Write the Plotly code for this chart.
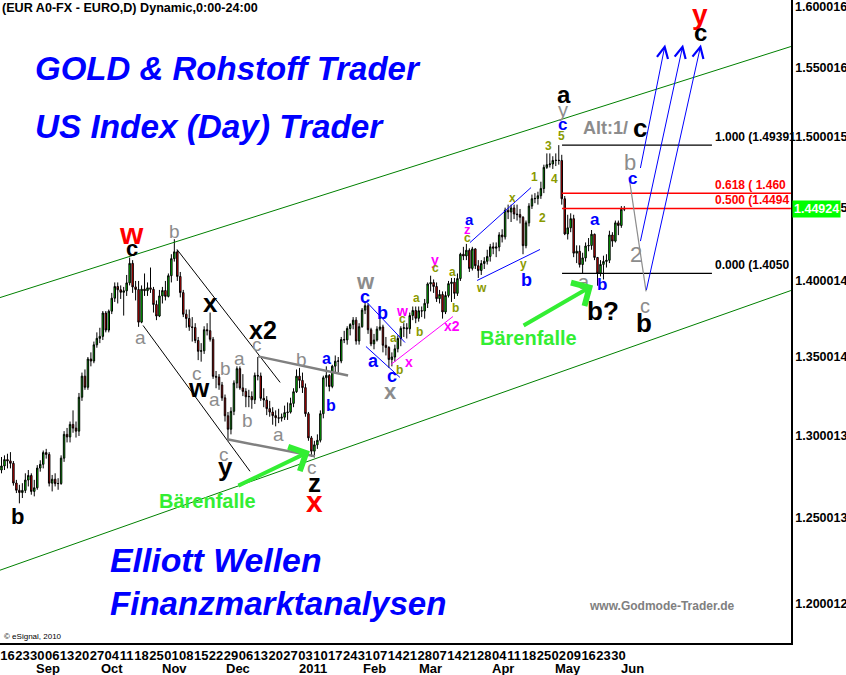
import numpy as np
import plotly.graph_objects as go

# ---------------- data (EUR/USD daily) ----------------
first_open = 1.2790
close = [1.2815, 1.2854, 1.2846, 1.2831, 1.2711, 1.2667, 1.2653, 1.2666, 1.2729, 1.2757,
         1.2660, 1.2682, 1.2802, 1.2825, 1.2897, 1.2886, 1.2710, 1.2734, 1.2707, 1.2708,
         1.2863, 1.3010, 1.2994, 1.3072, 1.3049, 1.3030, 1.3243, 1.3377, 1.3306, 1.3487,
         1.3474, 1.3579, 1.3621, 1.3634, 1.3787, 1.3675, 1.3799, 1.3885, 1.3963, 1.3941,
         1.3924, 1.3934, 1.3987, 1.4118, 1.3960, 1.3943, 1.3727, 1.3945, 1.3935, 1.3954,
         1.3944, 1.3843, 1.3767, 1.3900, 1.3936, 1.3897, 1.4035, 1.4150, 1.4196, 1.4030,
         1.3922, 1.3779, 1.3751, 1.3696, 1.3692, 1.3607, 1.3537, 1.3540, 1.3677, 1.3671,
         1.3615, 1.3376, 1.3371, 1.3321, 1.3239, 1.3126, 1.3042, 1.3154, 1.3333, 1.3425,
         1.3302, 1.3280, 1.3246, 1.3248, 1.3227, 1.3382, 1.3378, 1.3236, 1.3225, 1.3171,
         1.3149, 1.3127, 1.3114, 1.3111, 1.3117, 1.3146, 1.3149, 1.3204, 1.3278, 1.3377,
         1.3350, 1.3304, 1.3139, 1.2988, 1.2906, 1.2945, 1.2973, 1.3139, 1.3367, 1.3382,
         1.3311, 1.3441, 1.3473, 1.3474, 1.3613, 1.3611, 1.3685, 1.3711, 1.3740, 1.3604,
         1.3697, 1.3806, 1.3835, 1.3677, 1.3585, 1.3610, 1.3681, 1.3695, 1.3576, 1.3562,
         1.3484, 1.3500, 1.3553, 1.3620, 1.3686, 1.3690, 1.3683, 1.3770, 1.3804, 1.3752,
         1.3802, 1.3800, 1.3851, 1.3980, 1.3989, 1.3963, 1.3882, 1.3910, 1.3794, 1.3903,
         1.3982, 1.3992, 1.3917, 1.4016, 1.4180, 1.4168, 1.4207, 1.4084, 1.4216, 1.4102,
         1.4070, 1.4117, 1.4132, 1.4165, 1.4230, 1.4221, 1.4229, 1.4311, 1.4298, 1.4481,
         1.4469, 1.4497, 1.4455, 1.4451, 1.4433, 1.4238, 1.4394, 1.4510, 1.4561, 1.4563,
         1.4582, 1.4632, 1.4781, 1.4800, 1.4805, 1.4830, 1.4831, 1.4830, 1.4561, 1.4318,
         1.4360, 1.4423, 1.4187, 1.4200, 1.4110, 1.4155, 1.4236, 1.4239, 1.4316, 1.4158,
         1.4051, 1.4111, 1.4131, 1.4139, 1.4311, 1.4269, 1.4394, 1.4376, 1.4488, 1.4492]
high = [1.2870, 1.2880, 1.2890, 1.2900, 1.2845, 1.2730, 1.2700, 1.2710, 1.2770, 1.2790,
        1.2770, 1.2730, 1.2820, 1.2850, 1.2910, 1.2920, 1.2900, 1.2760, 1.2770, 1.2740,
        1.2880, 1.3030, 1.3050, 1.3090, 1.3160, 1.3090, 1.3270, 1.3400, 1.3420, 1.3500,
        1.3530, 1.3600, 1.3660, 1.3690, 1.3800, 1.3800, 1.3810, 1.3920, 1.3990, 1.3990,
        1.3970, 1.3960, 1.4040, 1.4157, 1.4140, 1.4000, 1.4000, 1.3970, 1.4050, 1.3990,
        1.4090, 1.3960, 1.3870, 1.3940, 1.3960, 1.4000, 1.4050, 1.4180, 1.4282, 1.4210,
        1.4060, 1.3940, 1.3810, 1.3810, 1.3760, 1.3720, 1.3630, 1.3590, 1.3700, 1.3720,
        1.3790, 1.3630, 1.3410, 1.3390, 1.3340, 1.3260, 1.3150, 1.3180, 1.3350, 1.3440,
        1.3440, 1.3390, 1.3300, 1.3290, 1.3280, 1.3400, 1.3500, 1.3400, 1.3300, 1.3250,
        1.3220, 1.3180, 1.3160, 1.3170, 1.3140, 1.3190, 1.3210, 1.3240, 1.3300, 1.3420,
        1.3430, 1.3400, 1.3330, 1.3150, 1.3000, 1.2970, 1.3010, 1.3160, 1.3380, 1.3440,
        1.3390, 1.3450, 1.3510, 1.3500, 1.3630, 1.3670, 1.3700, 1.3720, 1.3760, 1.3760,
        1.3720, 1.3820, 1.3862, 1.3850, 1.3690, 1.3650, 1.3700, 1.3760, 1.3710, 1.3630,
        1.3570, 1.3530, 1.3580, 1.3640, 1.3700, 1.3720, 1.3720, 1.3790, 1.3830, 1.3830,
        1.3830, 1.3830, 1.3880, 1.3990, 1.4035, 1.4010, 1.3990, 1.3940, 1.3930, 1.3930,
        1.4000, 1.4020, 1.4020, 1.4050, 1.4190, 1.4230, 1.4250, 1.4220, 1.4230, 1.4220,
        1.4140, 1.4140, 1.4160, 1.4210, 1.4250, 1.4260, 1.4260, 1.4330, 1.4350, 1.4499,
        1.4520, 1.4520, 1.4520, 1.4520, 1.4490, 1.4440, 1.4410, 1.4530, 1.4590, 1.4600,
        1.4610, 1.4680, 1.4800, 1.4880, 1.4880, 1.4860, 1.4880, 1.4939, 1.4870, 1.4580,
        1.4450, 1.4460, 1.4450, 1.4240, 1.4240, 1.4190, 1.4260, 1.4290, 1.4345, 1.4320,
        1.4160, 1.4140, 1.4170, 1.4180, 1.4340, 1.4330, 1.4410, 1.4410, 1.4510, 1.4510]
low = [1.2770, 1.2790, 1.2800, 1.2800, 1.2695, 1.2650, 1.2588, 1.2620, 1.2650, 1.2690,
       1.2640, 1.2630, 1.2670, 1.2780, 1.2800, 1.2860, 1.2690, 1.2660, 1.2690, 1.2670,
       1.2700, 1.2840, 1.2960, 1.2960, 1.3020, 1.2990, 1.3000, 1.3220, 1.3290, 1.3290,
       1.3440, 1.3460, 1.3560, 1.3590, 1.3610, 1.3660, 1.3660, 1.3780, 1.3860, 1.3850,
       1.3880, 1.3770, 1.3900, 1.3970, 1.3920, 1.3870, 1.3696, 1.3720, 1.3900, 1.3900,
       1.3920, 1.3790, 1.3740, 1.3760, 1.3850, 1.3870, 1.3890, 1.3990, 1.4130, 1.4000,
       1.3890, 1.3760, 1.3690, 1.3670, 1.3600, 1.3590, 1.3480, 1.3470, 1.3520, 1.3640,
       1.3600, 1.3360, 1.3300, 1.3290, 1.3220, 1.3090, 1.2968, 1.3010, 1.3130, 1.3300,
       1.3290, 1.3250, 1.3180, 1.3180, 1.3170, 1.3200, 1.3350, 1.3220, 1.3180, 1.3130,
       1.3120, 1.3070, 1.3060, 1.3080, 1.3090, 1.3100, 1.3100, 1.3140, 1.3180, 1.3270,
       1.3300, 1.3270, 1.3120, 1.2970, 1.2870, 1.2867, 1.2920, 1.2960, 1.3110, 1.3310,
       1.3280, 1.3300, 1.3400, 1.3400, 1.3460, 1.3590, 1.3580, 1.3640, 1.3680, 1.3580,
       1.3580, 1.3690, 1.3780, 1.3650, 1.3570, 1.3550, 1.3600, 1.3670, 1.3530, 1.3510,
       1.3430, 1.3440, 1.3470, 1.3530, 1.3570, 1.3630, 1.3620, 1.3650, 1.3740, 1.3720,
       1.3730, 1.3760, 1.3750, 1.3820, 1.3930, 1.3920, 1.3860, 1.3850, 1.3750, 1.3780,
       1.3890, 1.3860, 1.3880, 1.3900, 1.4000, 1.4140, 1.4140, 1.4060, 1.4070, 1.4080,
       1.4020, 1.4040, 1.4080, 1.4110, 1.4130, 1.4180, 1.4160, 1.4200, 1.4260, 1.4280,
       1.4420, 1.4400, 1.4420, 1.4410, 1.4390, 1.4180, 1.4220, 1.4370, 1.4490, 1.4530,
       1.4520, 1.4560, 1.4600, 1.4770, 1.4780, 1.4770, 1.4790, 1.4800, 1.4520, 1.4310,
       1.4280, 1.4330, 1.4160, 1.4120, 1.4090, 1.4050, 1.4130, 1.4200, 1.4210, 1.4140,
       1.3968, 1.4030, 1.4010, 1.4090, 1.4120, 1.4230, 1.4260, 1.4310, 1.4360, 1.4475]
open_ = [first_open] + close[:-1]
bar_index = list(range(len(close)))

day_labels = ["16", "23", "30", "06", "13", "20", "27", "04", "11", "18", "25", "01", "08", "15",
              "22", "29", "06", "13", "20", "27", "03", "10", "17", "24", "31", "07", "14", "21",
              "28", "07", "14", "21", "28", "04", "11", "18", "25", "02", "09", "16", "23", "30"]
day_ticks = [5 * k for k in range(len(day_labels))]
month_labels = ["Sep", "Oct", "Nov", "Dec", "2011", "Feb", "Mar", "Apr", "May", "Jun"]
month_pos = [15.6, 37.1, 58.2, 79.4, 104.5, 125.0, 143.8, 168.3, 190.1, 211.9]

y_tick_vals = [1.200012, 1.250013, 1.300013, 1.350014, 1.400014, 1.450015, 1.500015, 1.550016]
y_tick_text = ["1.200012", "1.250013", "1.300013", "1.350014", "1.400014", "1.450015",
               "1.500015", "1.550016"]
last_price = 1.44924

fib_levels = [1.49391, 1.4600, 1.4494, 1.4050]
fib_texts = ["1.000 (1.49391", "0.618 ( 1.460", "0.500 (1.4494", "0.000 (1.4050"]

# ---------------- styling ----------------
FONT = "Liberation Sans, Arial, sans-serif"
GRAY = "#8C8C8C"
BLUE = "#0000FF"
OLIVE = "#8A9A00"
MAG = "#FF00FF"
RED = "#FF0000"
BLACK = "#000000"
LGREEN = "#33EE33"

fig = go.Figure()

fig.add_trace(go.Candlestick(
    x=bar_index, open=open_, high=high, low=low, close=close,
    increasing=dict(line=dict(color="black", width=1), fillcolor="#00EE00"),
    decreasing=dict(line=dict(color="black", width=1), fillcolor="#FF0000"),
    whiskerwidth=0, showlegend=False, hoverinfo="skip"))


def seg(x0, p0, x1, p1, color, width=1, dash="solid"):
    fig.add_trace(go.Scatter(x=[x0, x1], y=[p0, p1], mode="lines",
                             line=dict(color=color, width=width, dash=dash),
                             showlegend=False, hoverinfo="skip"))


# trend channels
seg(-0.5, 1.3889, 264.9, 1.5660, "#008000", 1)
seg(-0.5, 1.2192, 264.9, 1.3936, "#008000", 1)
# black channel of the decline
seg(58.9, 1.4212, 93.5, 1.3337, BLACK, 1)
seg(47.5, 1.3705, 83.4, 1.2782, BLACK, 1)
# gray triangle lines
seg(86.1, 1.3504, 116.3, 1.3381, "#808080", 2.5)
seg(75.7, 1.2979, 105.2, 1.2874, "#808080", 2.5)
# blue wedge lines
seg(122.7, 1.3856, 135.4, 1.3594, BLUE, 1)
seg(122.3, 1.3568, 133.7, 1.3369, BLUE, 1)
seg(157.2, 1.4259, 177.7, 1.4639, BLUE, 1)
seg(159.6, 1.4003, 180.7, 1.4212, BLUE, 1)
# magenta line
seg(130.7, 1.3452, 151.5, 1.3764, MAG, 1)
# fib lines
seg(188.1, fib_levels[0], 238.4, fib_levels[0], BLACK, 1.3)
seg(188.1, fib_levels[3], 238.4, fib_levels[3], BLACK, 1.3)
seg(188.1, fib_levels[1], 264.9, fib_levels[1], RED, 1.5)
seg(188.1, fib_levels[2], 264.9, fib_levels[2], RED, 1.5)
# gray projection path
seg(210.6, 1.4710, 216.3, 1.3930, "#8C8C8C", 1.2)

ann = []


def lab(text, i, p, color, size, bold=True, anchor="center"):
    t = f"<b>{text}</b>" if bold else text
    ann.append(dict(x=i, y=np.log10(p), xref="x", yref="y", text=t, showarrow=False,
                    font=dict(family=FONT, size=size, color=color),
                    xanchor=anchor, yanchor="middle"))


def paper_text(text, x, y, color, size, anchor="left"):
    ann.append(dict(x=x, y=y, xref="paper", yref="paper", text=text, showarrow=False,
                    font=dict(family=FONT, size=size, color=color),
                    xanchor=anchor, yanchor="middle"))


def arrow(i0, p0, i1, p1, color, width, head, size):
    ann.append(dict(x=i1, y=np.log10(p1), ax=i0, ay=np.log10(p0), xref="x", yref="y",
                    axref="x", ayref="y", text="", showarrow=True, arrowhead=head,
                    arrowsize=size, arrowwidth=width, arrowcolor=color))


# Elliott wave labels
lab("w", 43.5, 1.4321, RED, 30)
lab("c", 43.8, 1.4219, BLACK, 22)
lab("b", 57.9, 1.4334, GRAY, 19, False)
lab("b", 5.2, 1.2510, BLACK, 22)
lab("a", 46.8, 1.3627, GRAY, 19, False)
lab("x", 70.0, 1.3850, BLACK, 26)
lab("x2", 87.8, 1.3673, BLACK, 25)
lab("c", 85.7, 1.3581, GRAY, 19, False)
lab("a", 79.7, 1.3491, GRAY, 19, False)
lab("b", 75.3, 1.3427, GRAY, 19, False)
lab("c", 65.6, 1.3394, GRAY, 19, False)
lab("w", 66.3, 1.3299, BLACK, 26)
lab("a", 71.6, 1.3229, GRAY, 19, False)
lab("b", 82.7, 1.3098, GRAY, 19, False)
lab("a", 92.8, 1.3010, GRAY, 19, False)
lab("b", 100.8, 1.3485, GRAY, 19, False)
lab("c", 74.7, 1.2886, GRAY, 19, False)
lab("y", 75.0, 1.2806, BLACK, 26)
lab("c", 104.2, 1.2806, GRAY, 19, False)
lab("z", 104.9, 1.2709, BLACK, 26)
lab("x", 104.9, 1.2600, RED, 30)
lab("a", 109.2, 1.3491, BLUE, 16)
lab("b", 110.6, 1.3191, BLUE, 16)
lab("w", 122.0, 1.3996, GRAY, 22)
lab("c", 122.0, 1.3896, BLUE, 18)
lab("b", 128.0, 1.3790, BLUE, 18)
lab("a", 124.7, 1.3472, BLUE, 18)
lab("c", 131.0, 1.3375, BLUE, 18)
lab("x", 130.4, 1.3280, GRAY, 22)
lab("w", 134.4, 1.3797, MAG, 14)
lab("c", 134.4, 1.3745, OLIVE, 12)
lab("a", 131.4, 1.3621, OLIVE, 12)
lab("b", 133.4, 1.3414, OLIVE, 12)
lab("x", 136.7, 1.3465, MAG, 14)
lab("a", 139.4, 1.3883, OLIVE, 12)
lab("b", 140.4, 1.3660, OLIVE, 12)
lab("y", 145.5, 1.4144, MAG, 14)
lab("c", 145.5, 1.4084, OLIVE, 12)
lab("a", 151.5, 1.4057, OLIVE, 12)
lab("b", 152.5, 1.3823, OLIVE, 12)
lab("x2", 151.2, 1.3699, MAG, 14)
lab("a", 156.9, 1.4417, BLUE, 15)
lab("z", 156.5, 1.4348, MAG, 13)
lab("c", 156.5, 1.4287, OLIVE, 12)
lab("w", 161.2, 1.3956, OLIVE, 12)
lab("y", 175.3, 1.4111, OLIVE, 12)
lab("b", 176.3, 1.4003, BLUE, 18)
lab("x", 171.6, 1.4569, OLIVE, 12)
lab("1", 178.7, 1.4710, OLIVE, 12)
lab("2", 181.7, 1.4431, OLIVE, 12)
lab("3", 183.7, 1.4936, OLIVE, 12)
lab("4", 185.7, 1.4702, OLIVE, 12)
lab("5", 187.8, 1.5001, OLIVE, 12)
lab("c", 188.1, 1.5087, BLUE, 17)
lab("y", 188.4, 1.5195, GRAY, 20, False)
lab("a", 188.8, 1.5305, BLACK, 24)
lab("Alt:1/", 210.9, 1.5065, GRAY, 18, True, "right")
lab("c", 211.2, 1.5065, BLACK, 26, True, "left")
lab("b", 210.9, 1.4815, GRAY, 22, False)
lab("c", 211.9, 1.4702, BLUE, 17)
lab("2", 212.9, 1.4178, GRAY, 22, False)
lab("a", 199.2, 1.4417, BLUE, 17)
lab("a", 195.5, 1.3996, GRAY, 20, False)
lab("b", 201.5, 1.3976, BLUE, 17)
lab("b?", 201.8, 1.3803, BLACK, 26)
lab("c", 215.9, 1.3830, GRAY, 20, False)
lab("b", 215.6, 1.3719, BLACK, 26)
lab("y", 234.4, 1.5903, RED, 28)
lab("c", 234.4, 1.5765, BLACK, 24)
lab("Bärenfalle", 69.0, 1.2600, LGREEN, 20)
lab("Bärenfalle", 176.7, 1.3621, LGREEN, 20)

# fib texts
for lvl_text, lvl, col in zip(fib_texts, fib_levels, [BLACK, RED, RED, BLACK]):
    ann.append(dict(x=238.8, y=np.log10(lvl), xref="x", yref="y", text=f"<b>{lvl_text}</b>",
                    showarrow=False, xanchor="left", yanchor="middle", yshift=8,
                    font=dict(family=FONT, size=12, color=col)))

# projection arrows and Bärenfalle arrows
arrow(214.3, 1.4766, 222.7, 1.5675, BLUE, 1, 5, 2.2)
arrow(214.3, 1.4259, 228.7, 1.5675, BLUE, 1, 5, 2.2)
arrow(216.3, 1.3930, 234.7, 1.5675, BLUE, 1, 5, 2.2)
arrow(79.0, 1.2691, 103.5, 1.2905, LGREEN, 4, 4, 1.3)
arrow(174.7, 1.3699, 198.5, 1.3970, LGREEN, 4, 4, 1.3)

# headline texts
HL = "<b><i>{}</i></b>"
paper_text(HL.format("GOLD &amp; Rohstoff Trader"), 33 / 791, 1 - 68 / 643, BLUE, 33)
paper_text(HL.format("US Index (Day) Trader"), 33 / 791, 1 - 127 / 643, BLUE, 33.3)
paper_text(HL.format("Elliott Wellen"), 108 / 791, 1 - 560 / 643, BLUE, 33.8)
paper_text(HL.format("Finanzmarktanalysen"), 108 / 791, 1 - 603 / 643, BLUE, 33.1)
paper_text("<b>www.Godmode-Trader.de</b>", 587 / 791, 1 - 606 / 643, "#808080", 12)
paper_text("© eSignal, 2010", 2 / 791, 1 - 636 / 643, BLACK, 8)
paper_text("<b>(EUR A0-FX - EURO,D) Dynamic,0:00-24:00</b>", 0, 1 - 8 / 643, BLACK, 12.6)

# top y label (kept inside the chart like the original) and last price box
ann.append(dict(x=1, y=1 - 7 / 643, xref="paper", yref="paper", text="<b>1.600016</b>",
                showarrow=False, xanchor="left", yanchor="middle", xshift=2,
                font=dict(family=FONT, size=12.5, color=BLACK)))
ann.append(dict(x=1, y=np.log10(last_price), xref="paper", yref="y",
                text=f"<b>{last_price:.5f}</b>", showarrow=False, xanchor="left",
                yanchor="middle", xshift=1, bgcolor="#00FF00", borderpad=1,
                font=dict(family=FONT, size=12.5, color="white")))

# month labels
for m, pos in zip(month_labels, month_pos):
    ann.append(dict(x=pos, y=-25 / 643, xref="x", yref="paper", text=f"<b>{m}</b>",
                    showarrow=False, xanchor="center", yanchor="middle",
                    font=dict(family=FONT, size=13, color=BLACK)))

fig.update_layout(
    width=846, height=675,
    margin=dict(l=0, r=55, t=0, b=32),
    paper_bgcolor="white", plot_bgcolor="white",
    showlegend=False, hovermode=False,
    annotations=ann,
    xaxis=dict(range=[-0.503, 264.93], tickmode="array", tickvals=day_ticks,
               ticktext=day_labels, tickangle=0, ticks="", showgrid=False, zeroline=False,
               showline=True, linecolor="black", linewidth=1.5,
               tickfont=dict(family=FONT, size=13, color="black", weight="bold"),
               ticklabelshift=6, rangeslider=dict(visible=False)),
    yaxis=dict(type="log", side="right", range=[0.070963, 0.204449], tickmode="array",
               tickvals=y_tick_vals, ticktext=y_tick_text, ticks="", showgrid=False,
               zeroline=False, showline=True, linecolor="black", linewidth=1.5,
               tickfont=dict(family=FONT, size=12.5, color="black", weight="bold")),
)

fig.write_html("out.html", config={"displayModeBar": False},
               post_script="document.body.style.margin='0px';document.body.style.padding='0px';")
